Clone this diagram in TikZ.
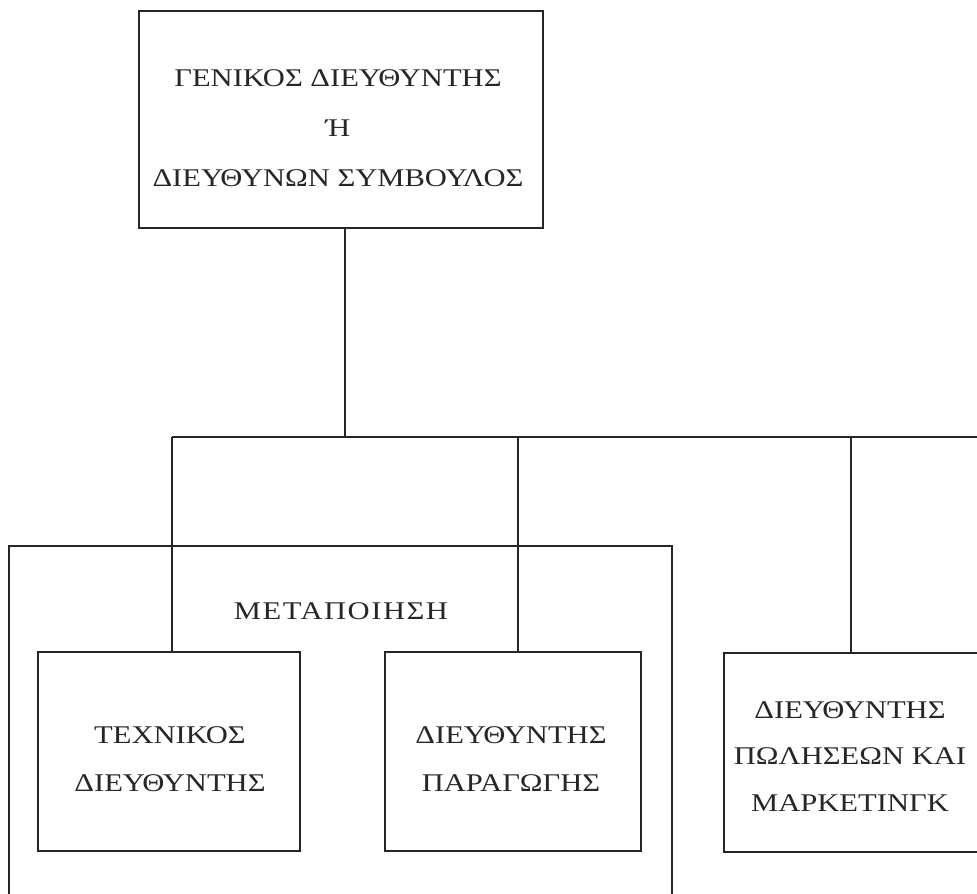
\documentclass[tikz,border=0pt]{standalone}
\usepackage{fontspec}
\setmainfont{Liberation Serif}[FakeStretch=1.2]
\newfontfamily\spacedfont{Liberation Serif}[FakeStretch=1.2,LetterSpace=6]
\begin{document}
\begin{tikzpicture}[x=0.02cm,y=-0.02cm, line width=1pt,
  box/.style={draw=black!85, rectangle, inner sep=0pt},
  lbl/.style={align=center, inner sep=0pt, text=black!85, font=\fontsize{14.5}{27}\selectfont}]
\useasboundingbox (0,0) rectangle (977,893);
\clip (0,0) rectangle (977,893);
\fill[white] (0,0) rectangle (977,893);
% boxes
\node[box, minimum width=8.08cm, minimum height=4.34cm] (gm) at (341,119.5) {};
\node[box, minimum width=13.26cm, minimum height=7.48cm] (manu) at (340.5,733) {};
\node[box, minimum width=5.24cm, minimum height=3.98cm] (tech) at (169,751.5) {};
\node[box, minimum width=5.12cm, minimum height=3.98cm] (prod) at (513,751.5) {};
\node[box, minimum width=5.12cm, minimum height=3.98cm] (sales) at (852,752.5) {};
% texts
\node[lbl, font=\fontsize{14.5}{28.5}\selectfont] (gmt) at (338,128) {ΓΕΝΙΚΟΣ ΔΙΕΥΘΥΝΤΗΣ\\Ή\\ΔΙΕΥΘΥΝΩΝ ΣΥΜΒΟΥΛΟΣ};
\node[lbl, font=\spacedfont\fontsize{14.5}{27}\selectfont] (manut) at (341,611.5) {ΜΕΤΑΠΟΙΗΣΗ};
\node[lbl] (techt) at (170,759) {ΤΕΧΝΙΚΟΣ\\ΔΙΕΥΘΥΝΤΗΣ};
\node[lbl] (prodt) at (511,759) {ΔΙΕΥΘΥΝΤΗΣ\\ΠΑΡΑΓΩΓΗΣ};
\node[lbl, font=\fontsize{14.5}{26.5}\selectfont] (salest) at (850,756.5) {ΔΙΕΥΘΥΝΤΗΣ\\ΠΩΛΗΣΕΩΝ ΚΑΙ\\ΜΑΡΚΕΤΙΝΓΚ};
% connectors
\coordinate (j) at (345,437);
\coordinate (bl) at (172,437);
\coordinate (br) at (990,437);
\coordinate (bm) at (518,437);
\coordinate (bs) at (851,437);
\draw[black!85] (j |- gm.south) -- (j);
\draw[black!85] (bl) -- (br);
\draw[black!85] (bl) -- (bl |- tech.north);
\draw[black!85] (bm) -- (bm |- prod.north);
\draw[black!85] (bs) -- (bs |- sales.north);
\end{tikzpicture}
\end{document}
